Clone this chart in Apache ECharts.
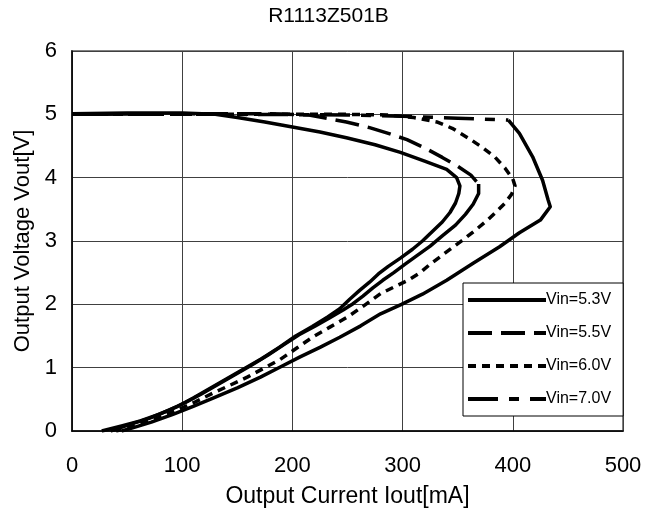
<!DOCTYPE html>
<html>
<head>
<meta charset="utf-8">
<script src="https://cdn.jsdelivr.net/npm/echarts@6/dist/echarts.min.js"></script>
<style>
html,body{margin:0;padding:0;background:#fff;}
#chart{width:657px;height:515px;}
</style>
</head>
<body>
<div id="chart"></div>
<script>
const title = 'R1113Z501B';
const xName = 'Output Current Iout[mA]';
const yName = 'Output Voltage Vout[V]';
const names = ['Vin=5.3V', 'Vin=5.5V', 'Vin=6.0V', 'Vin=7.0V'];

const vin53 = [[0,5.01],[50,5.02],[100,5.02],[130,5.0],[150,4.95],[175,4.88],[200,4.8],[225,4.72],[249,4.63],[275,4.52],[298,4.40],[320,4.26],[340,4.13],[349,4.0],[352,3.87],[351,3.75],[348,3.6],[343,3.45],[336,3.3],[327,3.15],[318,3.0],[309,2.87],[298,2.73],[287,2.6],[278,2.48],[270,2.35],[261,2.22],[252,2.08],[243,1.93],[232,1.8],[218,1.65],[203,1.5],[188,1.32],[172,1.14],[155,0.97],[140,0.82],[125,0.67],[110,0.52],[96,0.39],[80,0.27],[62,0.16],[45,0.08],[27,0]];

const vin55 = [[0,5.0],[100,5.01],[180,5.01],[215,4.99],[249,4.88],[270,4.79],[287,4.7],[304,4.6],[320,4.47],[336,4.32],[350,4.18],[362,4.04],[369,3.9],[369,3.75],[364,3.58],[357,3.42],[348,3.25],[336,3.08],[325,2.92],[313,2.77],[302,2.63],[292,2.5],[282,2.38],[273,2.26],[264,2.13],[255,2.01],[246,1.91],[234,1.79],[220,1.65],[206,1.52],[192,1.36],[178,1.2],[162,1.03],[147,0.88],[132,0.73],[117,0.58],[103,0.45],[88,0.33],[70,0.2],[52,0.1],[35,0]];

const vin60 = [[0,5.0],[150,5.0],[250,5.0],[286,4.99],[310,4.95],[331,4.88],[345,4.78],[361,4.61],[373,4.47],[384,4.32],[393,4.15],[400,3.98],[402,3.87],[399,3.74],[393,3.6],[385,3.46],[377,3.33],[366,3.17],[355,3.02],[344,2.88],[334,2.75],[324,2.62],[316,2.5],[305,2.38],[293,2.28],[280,2.17],[265,1.98],[250,1.8],[234,1.64],[219,1.49],[204,1.31],[189,1.13],[174,0.99],[159,0.85],[143,0.72],[128,0.6],[112,0.46],[95,0.33],[77,0.2],[58,0.09],[40,0]];

const vin70 = [[0,5.0],[150,5.0],[250,4.99],[300,4.97],[350,4.94],[396,4.91],[406,4.7],[418,4.33],[427,3.96],[432,3.65],[434,3.54],[425,3.33],[406,3.13],[388,2.91],[364,2.65],[340,2.38],[318,2.16],[299,2.0],[280,1.85],[262,1.66],[243,1.48],[225,1.32],[207,1.17],[189,1.01],[171,0.85],[150,0.68],[128,0.52],[110,0.39],[91,0.26],[72,0.14],[55,0.05],[45,0]];

const FONT = 'Liberation Sans, Arial, sans-serif';
const LW = 3.5;

function line(name, data, type) {
  return {
    name: name, type: 'line', data: data, symbol: 'none', silent: true,
    lineStyle: {color: '#000', width: LW, type: type, cap: 'butt', join: 'round'},
    itemStyle: {color: '#000'},
    animation: false
  };
}

const series = [
  line(names[0], vin53, 'solid'),
  line(names[1], vin55.slice(0, 13), [24, 9]),
  line(names[1], vin55.slice(12), 'solid'),
  line(names[2], vin60, [8, 6]),
  line(names[3], vin70.slice(0, 6), [30, 11, 10, 11]),
  line(names[3], vin70.slice(5), 'solid')
];

const chart = echarts.init(document.getElementById('chart'), null, {renderer: 'canvas'});
chart.setOption({
  backgroundColor: '#fff',
  animation: false,
  textStyle: {fontFamily: FONT, color: '#000'},
  title: {
    text: title, left: 'center', top: 1,
    textStyle: {fontFamily: FONT, fontSize: 21, fontWeight: 'normal', color: '#000'}
  },
  grid: {left: 72, right: 34, top: 51, bottom: 84, show: true, borderColor: '#808080', borderWidth: 2, backgroundColor: 'transparent'},
  legend: {
    data: names, orient: 'vertical', left: 463, top: 283,
    padding: [9, 12, 9, 3], itemGap: 17, itemWidth: 78, itemHeight: 15,
    backgroundColor: '#fff', borderColor: '#000', borderWidth: 1,
    lineStyle: {width: 4},
    itemStyle: {color: 'rgba(0,0,0,0)', borderWidth: 0, opacity: 0},
    textStyle: {fontFamily: FONT, fontSize: 16, color: '#000', padding: [0,0,0,-5]},
    selectedMode: false
  },
  xAxis: {
    type: 'value', min: 0, max: 500, interval: 100,
    name: xName, nameLocation: 'middle', nameGap: 54,
    nameTextStyle: {fontFamily: FONT, fontSize: 23, color: '#000'},
    axisLine: {show: true, onZero: false, lineStyle: {color: '#000', width: 1.5}},
    axisTick: {show: false},
    axisLabel: {fontFamily: FONT, fontSize: 22, color: '#000', margin: 24},
    splitLine: {show: true, lineStyle: {color: '#404040', width: 1}}
  },
  yAxis: {
    type: 'value', min: 0, max: 6, interval: 1,
    name: yName, nameLocation: 'middle', nameGap: 38, nameRotate: 90,
    nameTextStyle: {fontFamily: FONT, fontSize: 22, color: '#000'},
    axisLine: {show: true, onZero: false, lineStyle: {color: '#000', width: 1.5}},
    axisTick: {show: false},
    axisLabel: {fontFamily: FONT, fontSize: 22, color: '#000', margin: 15},
    splitLine: {show: true, lineStyle: {color: '#404040', width: 1}}
  },
  series: series
});
</script>
</body>
</html>
